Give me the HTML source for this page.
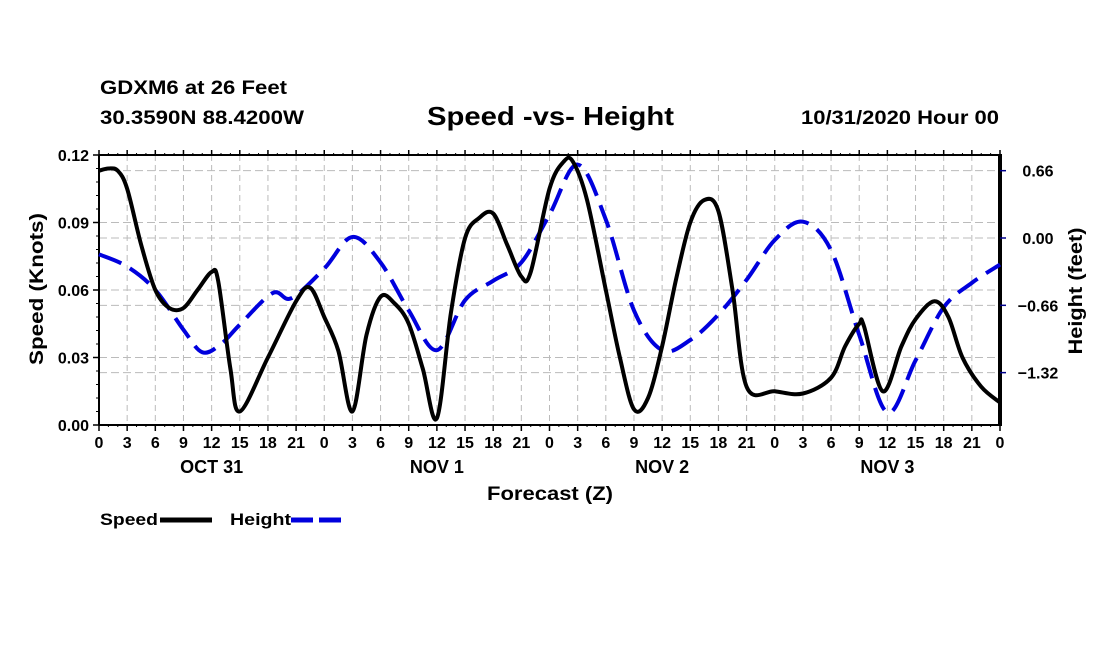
<!DOCTYPE html>
<html><head><meta charset="utf-8"><style>
body{margin:0;background:#fff;}
svg text{font-family:"Liberation Sans",Arial,sans-serif;font-weight:bold;}
</style></head><body>
<svg id="c" width="1100" height="650" xmlns="http://www.w3.org/2000/svg">
<text x="100" y="94" font-size="19" textLength="187" lengthAdjust="spacingAndGlyphs">GDXM6 at 26 Feet</text>
<text x="100" y="124" font-size="19" textLength="204" lengthAdjust="spacingAndGlyphs">30.3590N 88.4200W</text>
<text x="427" y="125" font-size="26" textLength="247" lengthAdjust="spacingAndGlyphs">Speed -vs- Height</text>
<text x="801" y="124" font-size="19" textLength="198" lengthAdjust="spacingAndGlyphs">10/31/2020 Hour 00</text>
<g id="grid"></g><g id="axes"></g><g id="series"></g>
<text x="550" y="500" font-size="19" text-anchor="middle" textLength="126" lengthAdjust="spacingAndGlyphs">Forecast (Z)</text>
<text transform="translate(43,289) rotate(-90)" font-size="19" text-anchor="middle" textLength="152" lengthAdjust="spacingAndGlyphs">Speed (Knots)</text>
<text transform="translate(1082,291) rotate(-90)" font-size="19" text-anchor="middle" textLength="127" lengthAdjust="spacingAndGlyphs">Height (feet)</text>
<g>
<text x="100" y="525" font-size="17" textLength="58" lengthAdjust="spacingAndGlyphs">Speed</text>
<line x1="160" y1="520" x2="212" y2="520" stroke="#000" stroke-width="5"/>
<text x="230" y="525" font-size="17" textLength="61" lengthAdjust="spacingAndGlyphs">Height</text>
<line x1="291" y1="520" x2="343" y2="520" stroke="#0000dd" stroke-width="5" stroke-dasharray="22,6"/>
</g>
</svg>
<script>
const speedHours=[0,1,2,3,4.5,6,7.5,9,10.5,12,12.7,14,15,18,21,22.5,24,25.5,27,28.5,30,31.5,33,34.5,36,37.5,39,40.5,42,43.5,45,46,48,49.5,50.5,52,54,55.5,57,58.5,60,61.5,63,64.5,66,67.5,69,72,75,78,79.5,81,81.5,83.5,85.5,87,89,90.5,92,94,96];
const speedVals=[.113,.114,.113,.105,.080,.060,.052,.052,.060,.068,.064,.025,.006,.030,.055,.061,.048,.033,.006,.040,.057,.054,.045,.025,.003,.050,.083,.092,.094,.080,.066,.068,.105,.117,.117,.100,.060,.030,.007,.012,.035,.065,.090,.100,.095,.060,.017,.015,.014,.021,.035,.045,.044,.015,.035,.047,.055,.048,.030,.017,.010];
const heightHours=[0,3,6,9,11,13,15,18.5,20.5,24,27,30,33,36,39,42,45,48,51,54,57,60,63,66,69,72,75,78,81,84,87,90,93,96];
const heightVals=[-0.16,-0.28,-0.51,-0.90,-1.12,-1.04,-0.85,-0.54,-0.59,-0.30,0.01,-0.24,-0.71,-1.10,-0.61,-0.42,-0.24,0.23,0.72,0.18,-0.71,-1.10,-1.0,-0.75,-0.41,-0.02,0.16,-0.12,-0.95,-1.71,-1.2,-0.68,-0.44,-0.26];
const speedTicks=["0.00","0.03","0.06","0.09","0.12"];
const heightTicks=["-1.32","-0.66","0.00","0.66"];
const hourLabels=["0","3","6","9","12","15","18","21"];
const dayLabels=["OCT 31","NOV 1","NOV 2","NOV 3"];

const L=99,R=1000,T=155,B=425;
const xS=h=>L+h*(R-L)/96;
const yS=v=>B-v*(B-T)/0.12;
const yH=f=>238-f*102;
const NS="http://www.w3.org/2000/svg";
function mk(tag,attrs,parent,txt){const e=document.createElementNS(NS,tag);for(const k in attrs)e.setAttribute(k,attrs[k]);if(txt!==undefined)e.textContent=txt;document.getElementById(parent).appendChild(e);return e;}
for(let i=1;i<32;i++){const g=mk('line',{x1:xS(i*3),x2:xS(i*3),y1:T,y2:B,stroke:'#bbb','stroke-dasharray':'6,4','stroke-width':1},'grid');

}
for(let i=1;i<4;i++){const g=mk('line',{x1:L,x2:R,y1:yS(i*0.03),y2:yS(i*0.03),stroke:'#bbb','stroke-dasharray':'8,4'},'grid');

}
heightTicks.forEach(t=>{const g=mk('line',{x1:L,x2:R,y1:yH(+t),y2:yH(+t),stroke:'#bbb','stroke-dasharray':'8,4'},'grid');

});
mk('line',{x1:L,x2:R,y1:T,y2:T,stroke:'#000','stroke-width':2},'axes');
mk('line',{x1:L,x2:R,y1:B,y2:B,stroke:'#000','stroke-width':2},'axes');
mk('line',{x1:L,x2:L,y1:T,y2:B,stroke:'#000','stroke-width':2},'axes');
mk('line',{x1:R,x2:R,y1:T-1,y2:B+1,stroke:'#000','stroke-width':4},'axes');
for(let i=0;i<=32;i++){const x=xS(i*3);
mk('line',{x1:x,x2:x,y1:B,y2:B+6,stroke:'#000','stroke-width':1.5},'axes');
mk('line',{x1:x,x2:x,y1:T,y2:T-5,stroke:'#000','stroke-width':1.5},'axes');
const lb=mk('text',{x:x,y:B+23,'font-size':16,'text-anchor':'middle'},'axes',hourLabels[i%8]);

}
for(let i=0;i<96;i++){const x=xS(i);mk('line',{x1:x,x2:x,y1:T,y2:T-2,stroke:'#000'},'axes');mk('line',{x1:x,x2:x,y1:B,y2:B+2,stroke:'#000'},'axes');}
dayLabels.forEach((d,i)=>{const t=mk('text',{x:xS(12+24*i),y:B+48,'font-size':18,'text-anchor':'middle'},'axes',d);

});
speedTicks.forEach(t=>{const y=yS(+t);mk('line',{x1:L-6,x2:L,y1:y,y2:y,stroke:'#000','stroke-width':1.5},'axes');
const lb=mk('text',{x:L-10,y:y+6,'font-size':16,'text-anchor':'end'},'axes',t);

});
for(let v=0;v<0.12;v+=0.006){mk('line',{x1:L-3,x2:L,y1:yS(v),y2:yS(v),stroke:'#000'},'axes');}
heightTicks.forEach(t=>{const y=yH(+t);mk('line',{x1:R,x2:R+6,y1:y,y2:y,stroke:'#00008b','stroke-width':1.5},'axes');
const lb=mk('text',{x:R+38,y:y+6,'font-size':16,'text-anchor':'middle'},'axes',t.replace('-','\u2212'));

});
function path(hs,vs,ys){const p=hs.map((h,i)=>[xS(h),ys(vs[i])]);let d='M'+p[0][0]+','+p[0][1];
for(let i=0;i<p.length-1;i++){const p0=p[Math.max(0,i-1)],p1=p[i],p2=p[i+1],p3=p[Math.min(p.length-1,i+2)];
const c1=[p1[0]+(p2[0]-p0[0])/6,p1[1]+(p2[1]-p0[1])/6],c2=[p2[0]-(p3[0]-p1[0])/6,p2[1]-(p3[1]-p1[1])/6];
d+=`C${c1[0]},${c1[1]} ${c2[0]},${c2[1]} ${p2[0]},${p2[1]}`;}return d;}
const hp=mk('path',{d:path(heightHours,heightVals,yH),fill:'none',stroke:'#0000dd','stroke-width':4,'stroke-dasharray':'24,10'},'series');


const sp=mk('path',{d:path(speedHours,speedVals,yS),fill:'none',stroke:'#000','stroke-width':4},'series');


</script>
</body></html>
